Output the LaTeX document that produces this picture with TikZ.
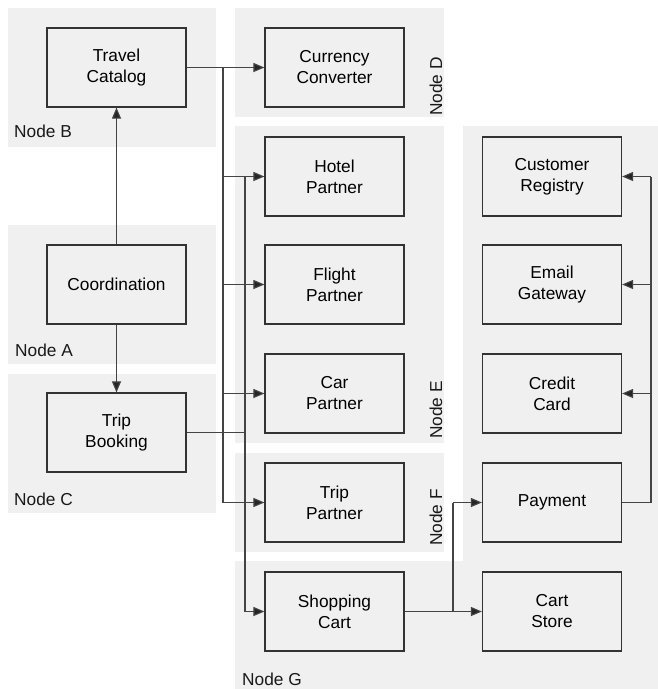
\documentclass[tikz,border=0pt]{standalone}
\usepackage{fontspec}
\setmainfont{Liberation Sans}
\usetikzlibrary{arrows.meta}
\definecolor{regbg}{HTML}{F0F0F0}
\definecolor{boxline}{HTML}{333333}
\definecolor{conline}{HTML}{444444}
\tikzset{
  region/.style={fill=regbg, draw=none},
  compbox/.style={draw=boxline, line width=1.2pt, fill=regbg, minimum width=139pt, minimum height=79pt, inner sep=0pt, align=center, font=\fontsize{17.3}{21}\selectfont},
  reglabel/.style={inner sep=0pt, font=\fontsize{17.3}{21}\selectfont, text=black!90},
  conn/.style={draw=conline, line width=1.1pt},
  arr/.style={conn, -{Triangle[length=11pt, width=9pt, fill=black!85]}}
}
\begin{document}
\begin{tikzpicture}[x=1pt, y=-1pt]
\useasboundingbox (0,0) rectangle (658,689);
% regions
\fill[region] (8,8) rectangle (216,147);
\fill[region] (8,225) rectangle (216,364);
\fill[region] (8,374) rectangle (216,513);
\fill[region] (235,8) rectangle (444,117);
\fill[region] (235,126) rectangle (444,443);
\fill[region] (235,453) rectangle (444,552);
\fill[region] (463,126) rectangle (658,689);
\fill[region] (235,561) rectangle (658,689);
% region labels
\node[reglabel, anchor=base west] (lb) at (14,137) {Node B};
\node[reglabel, anchor=base west] (la) at (15,356) {Node A};
\node[reglabel, anchor=base west] (lc) at (14,505) {Node C};
\node[reglabel, anchor=base west] (lg) at (242,685) {Node G};
\node[reglabel, rotate=90, anchor=base west] (ld) at (442,116) {Node D};
\node[reglabel, rotate=90, anchor=base west] (le) at (442,439) {Node E};
\node[reglabel, rotate=90, anchor=base west] (lf) at (442,546) {Node F};
% boxes
\node[compbox] (tc) at (116.5,67.5) {Travel\\Catalog};
\node[compbox] (co) at (116.5,284.5) {Coordination};
\node[compbox] (tb) at (116.5,432.5) {Trip\\Booking};
\node[compbox] (cc) at (334.5,67.5) {Currency\\Converter};
\node[compbox] (hp) at (334.5,176.5) {Hotel\\Partner};
\node[compbox] (fp) at (334.5,284.5) {Flight\\Partner};
\node[compbox] (cp) at (334.5,393.5) {Car\\Partner};
\node[compbox] (tp) at (334.5,502.5) {Trip\\Partner};
\node[compbox] (sc) at (334.5,611.5) {Shopping\\Cart};
\node[compbox] (cr) at (552,176.5) {Customer\\Registry};
\node[compbox] (eg) at (552,284.5) {Email\\Gateway};
\node[compbox] (cd) at (552,393.5) {Credit\\Card};
\node[compbox] (pa) at (552,502.5) {Payment};
\node[compbox] (cs) at (552,611.5) {Cart\\Store};
% bus coordinates
\coordinate (b1top) at (223,67.5);
\coordinate (b1bot) at (223,502.5);
\coordinate (b2top) at (245,176.5);
\coordinate (b2mid) at (245,432.5);
\coordinate (b2bot) at (245,611.5);
\coordinate (b3bot) at (453,611.5);
\coordinate (b3top) at (453,502.5);
\coordinate (b4bot) at (651,502.5);
\coordinate (b4top) at (651,176.5);
% connectors
\draw[arr] (co.north) -- (tc.south);
\draw[arr] (co.south) -- (tb.north);
\draw[arr] (tc.east) -- (cc.west);
\draw[conn] (b1top) -- (b1bot);
\draw[arr] (b1bot) -- (tp.west);
\draw[arr] (b1top |- hp.west) -- (hp.west);
\draw[arr] (b1top |- fp.west) -- (fp.west);
\draw[arr] (b1top |- cp.west) -- (cp.west);
\draw[conn] (tb.east) -- (b2mid);
\draw[conn] (b2top) -- (b2bot);
\draw[arr] (b2bot) -- (sc.west);
\draw[arr] (sc.east) -- (cs.west);
\draw[conn] (b3bot) -- (b3top);
\draw[arr] (b3top) -- (pa.west);
\draw[conn] (pa.east) -- (b4bot) -- (b4top);
\draw[arr] (b4top) -- (cr.east);
\draw[arr] (b4top |- eg.east) -- (eg.east);
\draw[arr] (b4top |- cd.east) -- (cd.east);
\end{tikzpicture}
\end{document}
